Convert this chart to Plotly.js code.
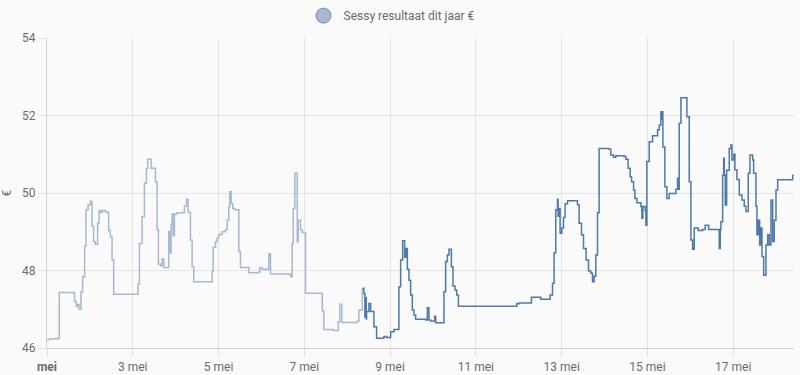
<!DOCTYPE html>
<html>
<head>
<meta charset="utf-8">
<script src="https://cdn.plot.ly/plotly-3.0.1.min.js"></script>
<style>
  html, body { margin: 0; padding: 0; background: #fafafa; }
  #chart { width: 800px; height: 375px; }
</style>
</head>
<body>
<div id="chart"></div>
<script>
const seriesName = 'Sessy resultaat dit jaar €';

const olderTimes = [
  '2025-05-01 00:00','2025-05-01 01:51','2025-05-01 06:30','2025-05-01 06:53','2025-05-01 14:54',
  '2025-05-01 15:28','2025-05-01 16:25','2025-05-01 17:08','2025-05-01 17:55','2025-05-01 19:02',
  '2025-05-01 19:56','2025-05-01 21:04','2025-05-01 21:50','2025-05-01 22:58','2025-05-02 00:15',
  '2025-05-02 01:12','2025-05-02 02:06','2025-05-02 03:03','2025-05-02 04:20','2025-05-02 05:08',
  '2025-05-02 06:15','2025-05-02 06:58','2025-05-02 08:39','2025-05-02 09:36','2025-05-02 10:30',
  '2025-05-02 11:27','2025-05-02 12:24','2025-05-02 13:18','2025-05-03 02:58','2025-05-03 03:42',
  '2025-05-03 05:12','2025-05-03 06:30','2025-05-03 07:37','2025-05-03 08:21','2025-05-03 10:15',
  '2025-05-03 12:40','2025-05-03 13:37','2025-05-03 14:20','2025-05-03 15:28','2025-05-03 16:25',
  '2025-05-03 17:19','2025-05-03 20:07','2025-05-03 20:40','2025-05-03 21:27','2025-05-03 22:01',
  '2025-05-03 22:34','2025-05-03 23:18','2025-05-04 00:49','2025-05-04 04:54','2025-05-04 06:01',
  '2025-05-04 06:58','2025-05-04 08:16','2025-05-04 09:13','2025-05-04 10:07','2025-05-04 20:25',
  '2025-05-04 20:59','2025-05-04 22:16','2025-05-04 23:13','2025-05-05 00:07','2025-05-05 02:01',
  '2025-05-05 03:52','2025-05-05 04:49','2025-05-05 05:43','2025-05-05 06:16','2025-05-05 07:04',
  '2025-05-05 07:57','2025-05-05 09:05','2025-05-05 11:19','2025-05-05 12:16','2025-05-05 16:55',
  '2025-05-05 22:31','2025-05-05 23:05','2025-05-06 00:25','2025-05-06 04:07','2025-05-06 05:04',
  '2025-05-06 16:16','2025-05-06 17:13','2025-05-06 17:47','2025-05-06 18:41','2025-05-06 20:02',
  '2025-05-06 20:35','2025-05-06 21:52','2025-05-06 22:50','2025-05-07 00:41','2025-05-07 10:02',
  '2025-05-07 10:56','2025-05-07 16:11','2025-05-07 18:59','2025-05-07 19:53','2025-05-07 21:01',
  '2025-05-08 05:38','2025-05-08 06:32','2025-05-08 08:26'
];
const olderValues = [
  46.22,46.24,46.25,47.43,47.42,
  47.20,47.07,47.12,47.00,47.45,
  47.84,48.63,49.56,49.69,49.79,
  49.15,48.74,48.68,49.22,49.54,
  49.50,49.55,49.52,49.50,49.03,
  48.87,48.27,47.39,47.65,48.70,
  49.39,50.25,50.64,50.87,50.64,
  50.29,49.05,48.17,48.12,48.30,
  48.08,49.00,48.45,49.20,49.46,
  48.90,49.46,49.49,49.66,49.84,
  49.50,48.79,48.10,47.71,47.97,
  48.60,48.74,48.84,48.93,49.00,
  49.06,49.30,49.65,50.03,49.73,
  49.60,49.57,48.49,48.08,47.94,
  47.96,48.07,48.03,48.43,47.91,
  47.84,48.70,49.60,50.51,48.74,
  49.30,49.05,48.98,47.41,46.96,
  46.48,46.45,46.68,47.13,46.66,
  46.70,46.98,47.54
];

const recentTimes = [
  '2025-05-08 08:26','2025-05-08 09:20','2025-05-08 09:53','2025-05-08 10:17','2025-05-08 10:40',
  '2025-05-08 10:50','2025-05-08 12:08','2025-05-08 13:05','2025-05-08 14:56','2025-05-08 16:26',
  '2025-05-08 20:32','2025-05-08 22:02','2025-05-09 00:17','2025-05-09 02:08','2025-05-09 04:56',
  '2025-05-09 05:53','2025-05-09 07:00','2025-05-09 08:07','2025-05-09 08:51','2025-05-09 09:38',
  '2025-05-09 10:32','2025-05-09 11:29','2025-05-09 12:26','2025-05-09 13:20','2025-05-09 14:17',
  '2025-05-09 19:53','2025-05-09 20:50','2025-05-09 21:44','2025-05-09 22:41','2025-05-10 00:56',
  '2025-05-10 01:29','2025-05-10 06:08','2025-05-10 07:05','2025-05-10 08:02','2025-05-10 08:56',
  '2025-05-10 10:17','2025-05-10 11:11','2025-05-10 12:18','2025-05-10 13:15','2025-05-10 14:12',
  '2025-05-11 22:52','2025-05-12 00:09','2025-05-12 07:05','2025-05-12 12:18','2025-05-12 17:31',
  '2025-05-12 18:52','2025-05-12 19:45','2025-05-12 20:42','2025-05-12 21:40','2025-05-12 21:59',
  '2025-05-12 22:33','2025-05-12 23:07','2025-05-13 00:04','2025-05-13 01:01','2025-05-13 01:55',
  '2025-05-13 03:15','2025-05-13 08:51','2025-05-13 09:45','2025-05-13 11:05','2025-05-13 12:13',
  '2025-05-13 13:40','2025-05-13 15:01','2025-05-13 16:18','2025-05-13 17:15','2025-05-13 18:09',
  '2025-05-13 19:06','2025-05-13 20:03','2025-05-13 20:57','2025-05-14 02:33','2025-05-14 03:30',
  '2025-05-14 05:01','2025-05-14 06:18','2025-05-14 10:57','2025-05-14 11:54','2025-05-14 13:11',
  '2025-05-14 14:19','2025-05-14 15:06','2025-05-14 16:13','2025-05-14 16:57','2025-05-14 18:04',
  '2025-05-14 20:19','2025-05-14 20:52','2025-05-14 21:26','2025-05-14 22:43','2025-05-14 23:07',
  '2025-05-14 23:40','2025-05-15 00:58','2025-05-15 02:52','2025-05-15 05:40','2025-05-15 06:34',
  '2025-05-15 07:31','2025-05-15 07:54','2025-05-15 08:14','2025-05-15 08:38','2025-05-15 09:45',
  '2025-05-15 10:52','2025-05-15 12:10','2025-05-15 15:55','2025-05-15 16:52','2025-05-15 17:25',
  '2025-05-15 17:46','2025-05-15 18:43','2025-05-15 22:04','2025-05-15 23:22','2025-05-16 00:19',
  '2025-05-16 01:16','2025-05-16 02:10','2025-05-16 04:24','2025-05-16 06:52','2025-05-16 08:19',
  '2025-05-16 10:14','2025-05-16 16:10','2025-05-16 16:43','2025-05-16 17:07','2025-05-16 18:04',
  '2025-05-16 18:38','2025-05-16 18:58','2025-05-16 19:31','2025-05-16 20:18','2025-05-16 21:46',
  '2025-05-16 22:43','2025-05-16 23:16','2025-05-17 00:14','2025-05-17 00:57','2025-05-17 02:04',
  '2025-05-17 03:22','2025-05-17 04:52','2025-05-17 06:10','2025-05-17 07:07','2025-05-17 08:24',
  '2025-05-17 09:21','2025-05-17 10:52','2025-05-17 11:25','2025-05-17 12:43','2025-05-17 13:16',
  '2025-05-17 14:00','2025-05-17 14:47','2025-05-17 15:31','2025-05-17 16:05','2025-05-17 17:02',
  '2025-05-17 18:19','2025-05-17 19:16','2025-05-17 20:10','2025-05-17 21:07','2025-05-17 22:04',
  '2025-05-17 22:58','2025-05-17 23:55','2025-05-18 00:52','2025-05-18 09:16','2025-05-18 09:50'
];
const recentValues = [
  47.54,47.40,46.80,47.30,46.75,
  46.94,47.15,46.94,46.55,46.25,
  46.30,46.27,46.42,46.48,47.58,
  48.27,48.77,48.34,48.57,48.03,
  47.75,47.37,46.98,46.85,46.74,
  46.72,47.04,46.72,46.70,46.82,
  46.65,47.45,48.23,48.40,48.55,
  48.10,47.60,47.50,47.37,47.08,
  47.14,47.16,47.31,47.26,47.37,
  47.67,48.46,49.56,49.84,49.40,
  49.60,48.96,49.10,49.37,49.72,
  49.80,49.70,49.22,48.92,48.57,
  48.27,47.99,47.93,47.71,47.85,
  48.40,49.49,51.15,51.13,50.98,
  50.92,50.96,50.94,50.87,50.64,
  50.42,50.29,50.08,49.86,49.75,
  49.65,49.35,49.65,49.55,49.17,
  50.81,51.32,51.48,51.63,51.75,
  52.10,51.90,52.10,51.19,50.16,
  49.86,49.99,50.10,50.38,50.10,
  51.80,52.46,51.97,50.29,48.79,
  48.55,49.10,49.03,49.06,49.17,
  49.06,48.57,49.06,49.26,50.46,
  50.90,50.46,49.69,50.59,51.15,
  51.24,50.85,51.00,50.60,50.35,
  49.95,49.82,49.66,49.52,50.51,
  50.98,50.85,50.51,49.66,48.92,
  49.30,48.66,49.10,48.36,47.88,
  48.66,48.92,48.66,49.82,48.75,
  49.30,50.08,50.34,50.46,50.46
];

const xTickVals = ['2025-05-01','2025-05-03','2025-05-05','2025-05-07','2025-05-09','2025-05-11','2025-05-13','2025-05-15','2025-05-17'];
const xTickText = ['<b>mei</b>','3 mei','5 mei','7 mei','9 mei','11 mei','13 mei','15 mei','17 mei'];
const yTickVals = [46, 48, 50, 52, 54];

const textColor = '#6b6b6b';
const gridColor = '#e3e3e3';

const traces = [
  {
    x: olderTimes, y: olderValues, type: 'scatter', mode: 'lines',
    line: { shape: 'hv', color: '#a5b9d0', width: 1.5 },
    showlegend: false, hoverinfo: 'skip'
  },
  {
    x: recentTimes, y: recentValues, type: 'scatter', mode: 'lines',
    line: { shape: 'hv', color: '#4e79a7', width: 1.5 },
    showlegend: false, hoverinfo: 'skip'
  },
  {
    x: [null], y: [null], type: 'scatter', mode: 'markers', name: seriesName,
    marker: { symbol: 'circle', size: 15, color: '#a5b9d0', line: { color: '#6f8fb5', width: 1 } },
    showlegend: true
  }
];

const layout = {
  width: 800, height: 375,
  paper_bgcolor: '#fafafa', plot_bgcolor: '#fafafa',
  margin: { l: 47, r: 6, t: 38, b: 27 },
  font: { family: 'Roboto, sans-serif', size: 12, color: textColor },
  showlegend: true,
  legend: {
    orientation: 'h', x: 0.49, xanchor: 'center', xref: 'container',
    y: 0.997, yanchor: 'top', yref: 'container',
    font: { family: 'Roboto, sans-serif', size: 12, color: textColor },
    itemsizing: 'trace'
  },
  xaxis: {
    type: 'date',
    range: ['2025-05-01 00:00', '2025-05-18 10:00'],
    tickmode: 'array', tickvals: xTickVals, ticktext: xTickText,
    showgrid: true, gridcolor: gridColor, gridwidth: 1,
    ticks: 'outside', ticklen: 8, tickcolor: gridColor,
    showline: true, linecolor: '#cfcfcf', linewidth: 1,
    zeroline: false,
    tickfont: { family: 'Roboto, sans-serif', size: 12, color: textColor }
  },
  yaxis: {
    range: [46, 54],
    tickmode: 'array', tickvals: yTickVals,
    showgrid: true, gridcolor: gridColor, gridwidth: 1,
    ticks: 'outside', ticklen: 8, tickcolor: gridColor,
    showline: true, linecolor: '#cfcfcf', linewidth: 1,
    zeroline: false,
    tickfont: { family: 'Roboto, sans-serif', size: 12, color: textColor },
    title: { text: '€', standoff: 14, font: { family: 'Roboto, sans-serif', size: 12, color: textColor } }
  }
};

Plotly.newPlot('chart', traces, layout, { staticPlot: true, displayModeBar: false });
</script>
</body>
</html>
